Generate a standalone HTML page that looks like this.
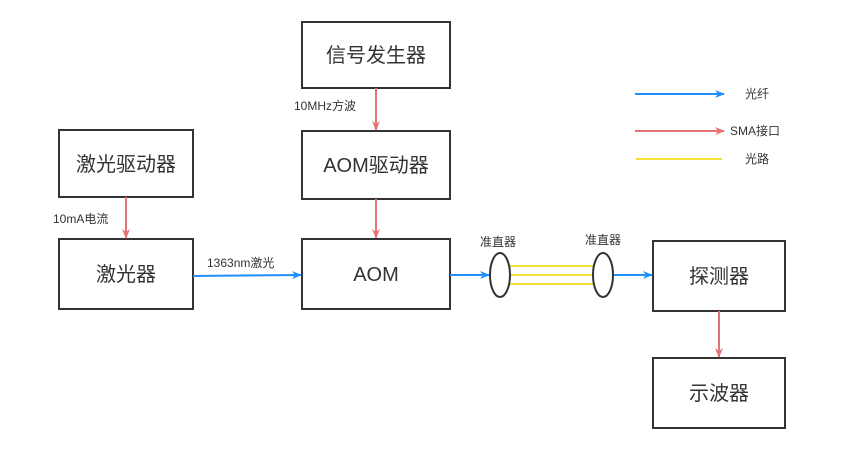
<!DOCTYPE html>
<html><head><meta charset="utf-8"><style>body{margin:0;background:#fff}svg{display:block}text{font-family:"Liberation Sans","Noto Sans CJK SC",sans-serif;fill:#333}</style></head><body>
<svg width="843" height="454" viewBox="0 0 843 454">
<defs>
<marker id="b" markerWidth="10" markerHeight="8" refX="9" refY="4" orient="auto" markerUnits="userSpaceOnUse"><path d="M0,0 L10,4 L0,8 L3,4Z" fill="#1e90ff"/></marker>
<marker id="r" markerWidth="10" markerHeight="8" refX="9" refY="4" orient="auto" markerUnits="userSpaceOnUse"><path d="M0,0 L10,4 L0,8 L3,4Z" fill="#e57373"/></marker>
</defs>
<g fill="#fff" stroke="#333" stroke-width="2">
<rect x="302" y="22" width="148" height="66"/>
<rect x="302" y="131" width="148" height="68"/>
<rect x="59" y="130" width="134" height="67"/>
<rect x="59" y="239" width="134" height="70"/>
<rect x="302" y="239" width="148" height="70"/>
<rect x="653" y="241" width="132" height="70"/>
<rect x="653" y="358" width="132" height="70"/>
</g>
<g font-size="20" text-anchor="middle">
<text x="376" y="62">信号发生器</text>
<text x="376" y="172">AOM驱动器</text>
<text x="126" y="171">激光驱动器</text>
<text x="126" y="281">激光器</text>
<text x="376" y="281">AOM</text>
<text x="719" y="283">探测器</text>
<text x="719" y="400">示波器</text>
</g>
<g stroke="#e57373" stroke-width="2" fill="none">
<line x1="376" y1="88" x2="376" y2="130" marker-end="url(#r)"/>
<line x1="376" y1="199" x2="376" y2="238" marker-end="url(#r)"/>
<line x1="126" y1="197" x2="126" y2="238" marker-end="url(#r)"/>
<line x1="719" y1="311" x2="719" y2="357" marker-end="url(#r)"/>
<line x1="635" y1="131" x2="724" y2="131" marker-end="url(#r)"/>
</g>
<g stroke="#1e90ff" stroke-width="2" fill="none">
<line x1="193" y1="276" x2="301" y2="275" marker-end="url(#b)"/>
<line x1="450" y1="275" x2="489" y2="275" marker-end="url(#b)"/>
<line x1="613" y1="275" x2="652" y2="275" marker-end="url(#b)"/>
<line x1="635" y1="94" x2="724" y2="94" marker-end="url(#b)"/>
</g>
<g stroke="#f5e03a" stroke-width="2">
<line x1="510" y1="266" x2="594" y2="266"/>
<line x1="510" y1="275" x2="594" y2="275"/>
<line x1="510" y1="284" x2="594" y2="284"/>
<line x1="636" y1="159" x2="722" y2="159"/>
</g>
<g fill="#fff" stroke="#333" stroke-width="2">
<ellipse cx="500" cy="275" rx="10" ry="22"/>
<ellipse cx="603" cy="275" rx="10" ry="22"/>
</g>
<g font-size="12">
<text x="294" y="110">10MHz方波</text>
<text x="53" y="223">10mA电流</text>
<text x="207" y="267">1363nm激光</text>
<text x="480" y="246">准直器</text>
<text x="585" y="244">准直器</text>
<text x="745" y="98">光纤</text>
<text x="730" y="135">SMA接口</text>
<text x="745" y="163">光路</text>
</g>
</svg>
</body></html>
